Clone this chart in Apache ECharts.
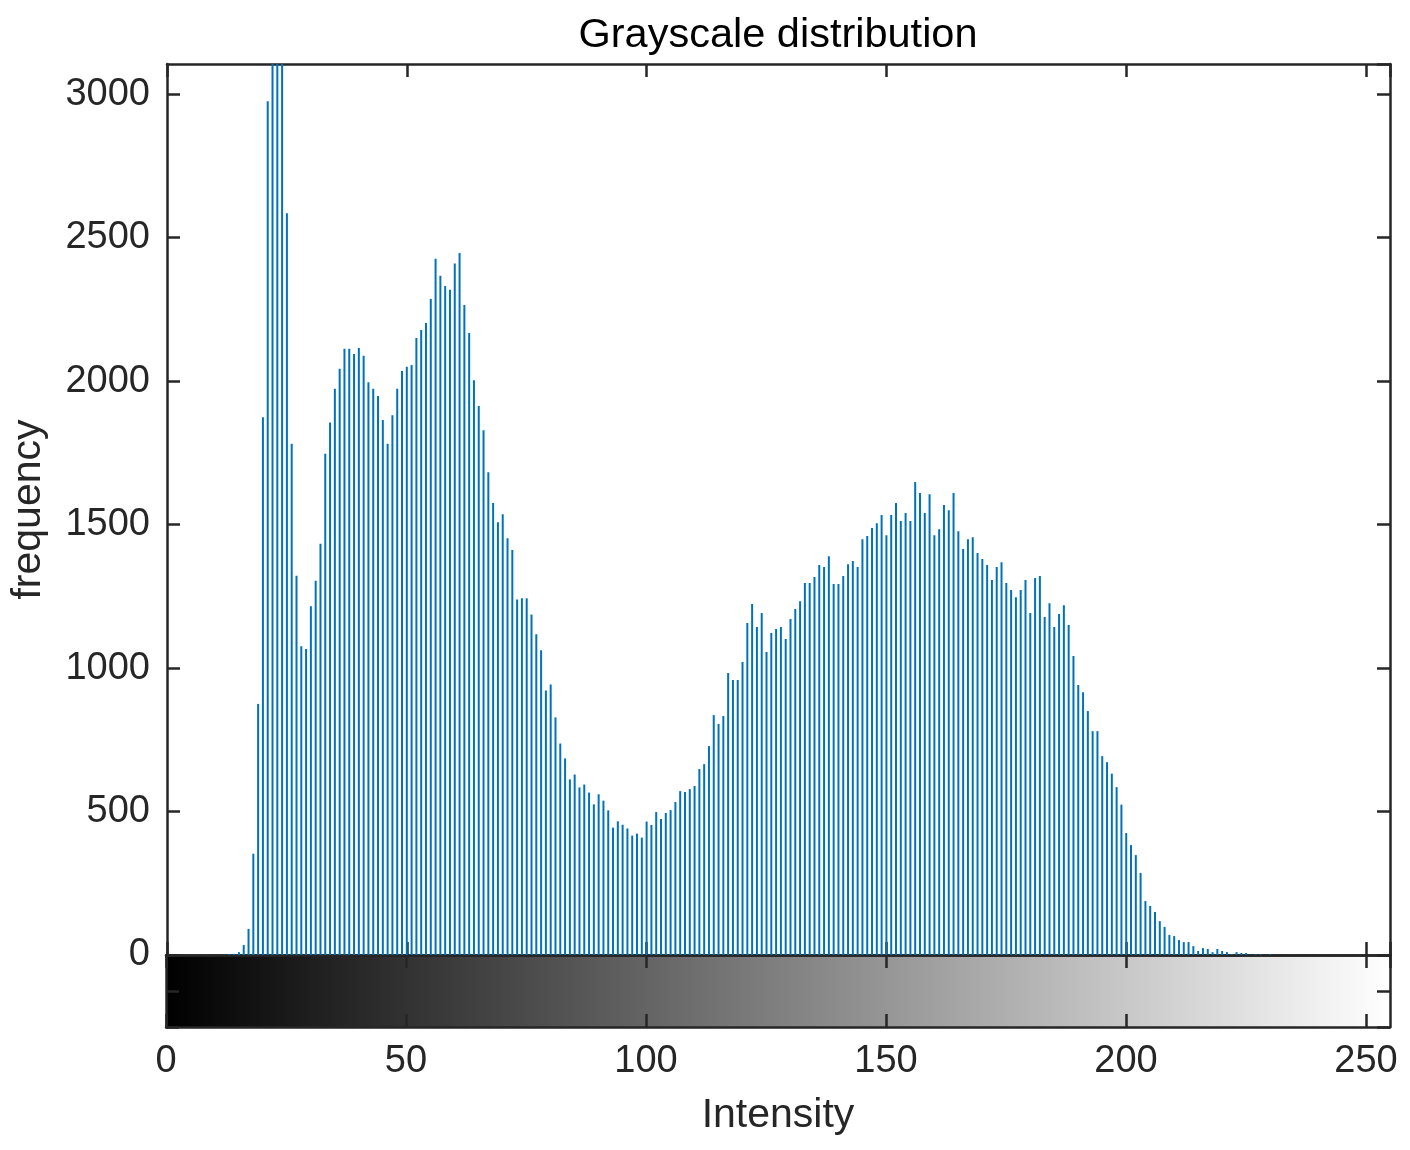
<!DOCTYPE html>
<html>
<head>
<meta charset="utf-8">
<script src="https://cdn.jsdelivr.net/npm/echarts@6/dist/echarts.min.js"></script>
<style>
  html, body { margin: 0; padding: 0; background: #fff; }
  #chart { width: 1410px; height: 1150px; }
</style>
</head>
<body>
<div id="chart"></div>
<script>
// histogram counts for intensity 0..255 (bars 22-24 run off the top)
const counts = [
  0, 0, 0, 0, 0, 0, 0, 0, 0, 0,
  0, 0, 0, 3, 4, 10, 35, 91, 353, 875,
  1874, 2975, 3400, 3450, 3300, 2585, 1782, 1322, 1076, 1066,
  1215, 1304, 1433, 1747, 1856, 1973, 2043, 2113, 2113, 2094,
  2115, 2088, 1996, 1973, 1948, 1864, 1782, 1881, 1973, 2035,
  2050, 2056, 2150, 2178, 2202, 2286, 2426, 2367, 2331, 2318,
  2410, 2446, 2265, 2168, 2003, 1913, 1829, 1682, 1575, 1508,
  1536, 1452, 1411, 1239, 1243, 1243, 1187, 1118, 1062, 922,
  943, 828, 737, 685, 612, 629, 584, 594, 566, 525,
  560, 538, 504, 444, 466, 454, 441, 416, 423, 409,
  465, 453, 498, 474, 495, 505, 533, 571, 568, 578,
  589, 648, 665, 728, 836, 805, 833, 983, 958, 958,
  1021, 1157, 1223, 1143, 1192, 1056, 1122, 1136, 1143, 1101,
  1171, 1206, 1233, 1296, 1296, 1317, 1359, 1352, 1390, 1293,
  1293, 1321, 1362, 1373, 1352, 1449, 1460, 1488, 1505, 1533,
  1463, 1533, 1575, 1512, 1540, 1512, 1648, 1610, 1540, 1606,
  1463, 1484, 1568, 1550, 1610, 1477, 1415, 1449, 1456, 1401,
  1380, 1359, 1307, 1352, 1369, 1296, 1272, 1247, 1272, 1307,
  1192, 1314, 1321, 1178, 1226, 1143, 1188, 1219, 1150, 1042,
  941, 916, 850, 780, 780, 693, 672, 632, 585, 524,
  425, 383, 348, 286, 188, 171, 150, 118, 98, 70,
  66, 52, 45, 45, 31, 14, 24, 21, 10, 21,
  14, 10, 3, 10, 7, 7, 0, 3, 3, 0,
  3, 0, 0, 0, 0, 0, 0, 0, 0, 0,
  0, 0, 0, 0, 0, 0, 0, 0, 0, 0,
  0, 0, 0, 0, 0, 0
];
const xTicks = [0, 50, 100, 150, 200, 250];
const yTicks = [0, 500, 1000, 1500, 2000, 2500, 3000];

const axisColor = '#262626';
const fontFamily = 'Liberation Sans, Arial, sans-serif';

// shared look of the box axes
function boxAxis(extra) {
  return Object.assign({
    type: 'value',
    axisLine: { show: true, onZero: false, lineStyle: { color: axisColor, width: 2.5 } },
    axisTick: { show: true, inside: true, length: 13, lineStyle: { color: axisColor, width: 2.5 } },
    axisLabel: { show: false },
    splitLine: { show: false }
  }, extra);
}

const xLabel = {
  show: true, showMaxLabel: false, margin: 16,
  color: axisColor, fontSize: 38, fontFamily: fontFamily,
  formatter: v => xTicks.includes(v) ? String(v) : ''
};
const yLabel = {
  show: true, showMaxLabel: false, margin: 17,
  color: axisColor, fontSize: 38, fontFamily: fontFamily,
  formatter: v => yTicks.includes(v) ? String(v) : ''
};

const chart = echarts.init(document.getElementById('chart'));

chart.setOption({
  animation: false,
  backgroundColor: '#fff',
  title: {
    text: 'Grayscale distribution',
    left: 773,
    top: 10,
    textAlign: 'center',
    textStyle: { color: '#000', fontSize: 41.5, fontWeight: 'normal', fontFamily: fontFamily }
  },
  grid: [
    { left: 166, right: 20, top: 64, height: 891 },
    {
      left: 166, right: 20, top: 955, height: 72, show: true, borderWidth: 0,
      backgroundColor: new echarts.graphic.LinearGradient(0, 0, 1, 0, [
        { offset: 0, color: '#000' },
        { offset: 1, color: '#fff' }
      ])
    }
  ],
  xAxis: [
    boxAxis({ gridIndex: 0, position: 'bottom', min: 0, max: 255, interval: 50 }),
    boxAxis({ gridIndex: 0, position: 'top', min: 0, max: 255, interval: 50 }),
    boxAxis({
      gridIndex: 1, position: 'bottom', min: 0, max: 255, interval: 50,
      axisLabel: xLabel,
      name: 'Intensity', nameLocation: 'middle', nameGap: 68,
      nameTextStyle: { color: axisColor, fontSize: 41, fontFamily: fontFamily }
    }),
    boxAxis({ gridIndex: 1, position: 'top', min: 0, max: 255, interval: 50 })
  ],
  yAxis: [
    boxAxis({
      gridIndex: 0, position: 'left', min: 0, max: 3105, interval: 500,
      axisLabel: yLabel,
      name: 'frequency', nameLocation: 'middle', nameGap: 118,
      nameTextStyle: { color: axisColor, fontSize: 41, fontFamily: fontFamily }
    }),
    boxAxis({ gridIndex: 0, position: 'right', min: 0, max: 3105, interval: 500 }),
    boxAxis({ gridIndex: 1, position: 'left', min: -1, max: 1, interval: 1 }),
    boxAxis({ gridIndex: 1, position: 'right', min: -1, max: 1, interval: 1 })
  ],
  series: [
    {
      type: 'bar',
      xAxisIndex: 0,
      yAxisIndex: 0,
      barWidth: 2,
      clip: true,
      itemStyle: { color: '#0072BD' },
      data: counts.map((c, i) => [i, c])
    }
  ]
});
</script>
</body>
</html>
